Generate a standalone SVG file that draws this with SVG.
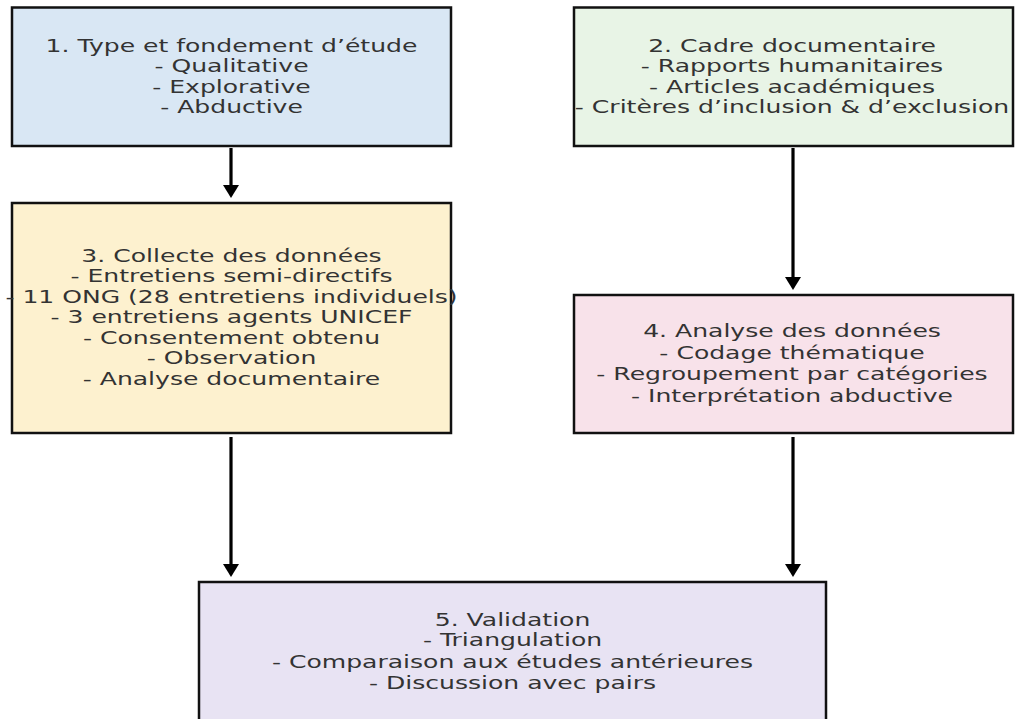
<svg xmlns="http://www.w3.org/2000/svg" width="1015" height="719" viewBox="0 0 1015 719">
<style>
.box{stroke:#111;stroke-width:2.5}
.t{font-family:"DejaVu Sans",sans-serif;font-size:18.3px;fill:#333;text-anchor:middle}
.arr{stroke:#000;stroke-width:3.2;fill:none}
</style>
<defs>
<marker id="ah" markerUnits="userSpaceOnUse" viewBox="0 0 13 16" markerWidth="13" markerHeight="16" refX="5" refY="8" orient="auto">
<path d="M0,0 L13,8 L0,16 z" fill="#000"/>
</marker>
</defs>
<rect width="1015" height="719" fill="#fff"/>
<g id="node1">
<rect class="box" x="12" y="7.5" width="439" height="138.5" fill="#d9e7f4"/>
<g transform="translate(231.5,0) scale(1.37,1)">
<text class="t" x="0" y="52">1. Type et fondement d’étude</text>
<text class="t" x="0" y="72.5">- Qualitative</text>
<text class="t" x="0" y="93">- Explorative</text>
<text class="t" x="0" y="113.5">- Abductive</text>
</g>
</g>
<g id="node2">
<rect class="box" x="574" y="7.5" width="439" height="138.5" fill="#e8f4e6"/>
<g transform="translate(792,0) scale(1.37,1)">
<text class="t" x="0" y="52">2. Cadre documentaire</text>
<text class="t" x="0" y="72.5">- Rapports humanitaires</text>
<text class="t" x="0" y="93">- Articles académiques</text>
<text class="t" x="0" y="113.5">- Critères d’inclusion &amp; d’exclusion</text>
</g>
</g>
<g id="node3">
<rect class="box" x="12" y="203" width="439" height="230" fill="#fdf1cf"/>
<g transform="translate(231.5,0) scale(1.37,1)">
<text class="t" x="0" y="262">3. Collecte des données</text>
<text class="t" x="0" y="282.5">- Entretiens semi-directifs</text>
<text class="t" x="0" y="303">- 11 ONG (28 entretiens individuels)</text>
<text class="t" x="0" y="323.5">- 3 entretiens agents UNICEF</text>
<text class="t" x="0" y="344">- Consentement obtenu</text>
<text class="t" x="0" y="364.5">- Observation</text>
<text class="t" x="0" y="385">- Analyse documentaire</text>
</g>
</g>
<g id="node4">
<rect class="box" x="574" y="295" width="439" height="138" fill="#f8e2ea"/>
<g transform="translate(792,0) scale(1.37,1)">
<text class="t" x="0" y="337">4. Analyse des données</text>
<text class="t" x="0" y="359">- Codage thématique</text>
<text class="t" x="0" y="380.5">- Regroupement par catégories</text>
<text class="t" x="0" y="402">- Interprétation abductive</text>
</g>
</g>
<g id="node5">
<rect class="box" x="199" y="582" width="627" height="140" fill="#e8e3f3"/>
<g transform="translate(512.5,0) scale(1.37,1)">
<text class="t" x="0" y="626">5. Validation</text>
<text class="t" x="0" y="646.5">- Triangulation</text>
<text class="t" x="0" y="668">- Comparaison aux études antérieures</text>
<text class="t" x="0" y="689">- Discussion avec pairs</text>
</g>
</g>
<g id="connectors">
<line class="arr" x1="231" y1="148" x2="231" y2="190" marker-end="url(#ah)"/>
<line class="arr" x1="793" y1="148" x2="793" y2="282" marker-end="url(#ah)"/>
<line class="arr" x1="231" y1="437" x2="231" y2="569" marker-end="url(#ah)"/>
<line class="arr" x1="793" y1="437" x2="793" y2="569" marker-end="url(#ah)"/>
</g>
</svg>
